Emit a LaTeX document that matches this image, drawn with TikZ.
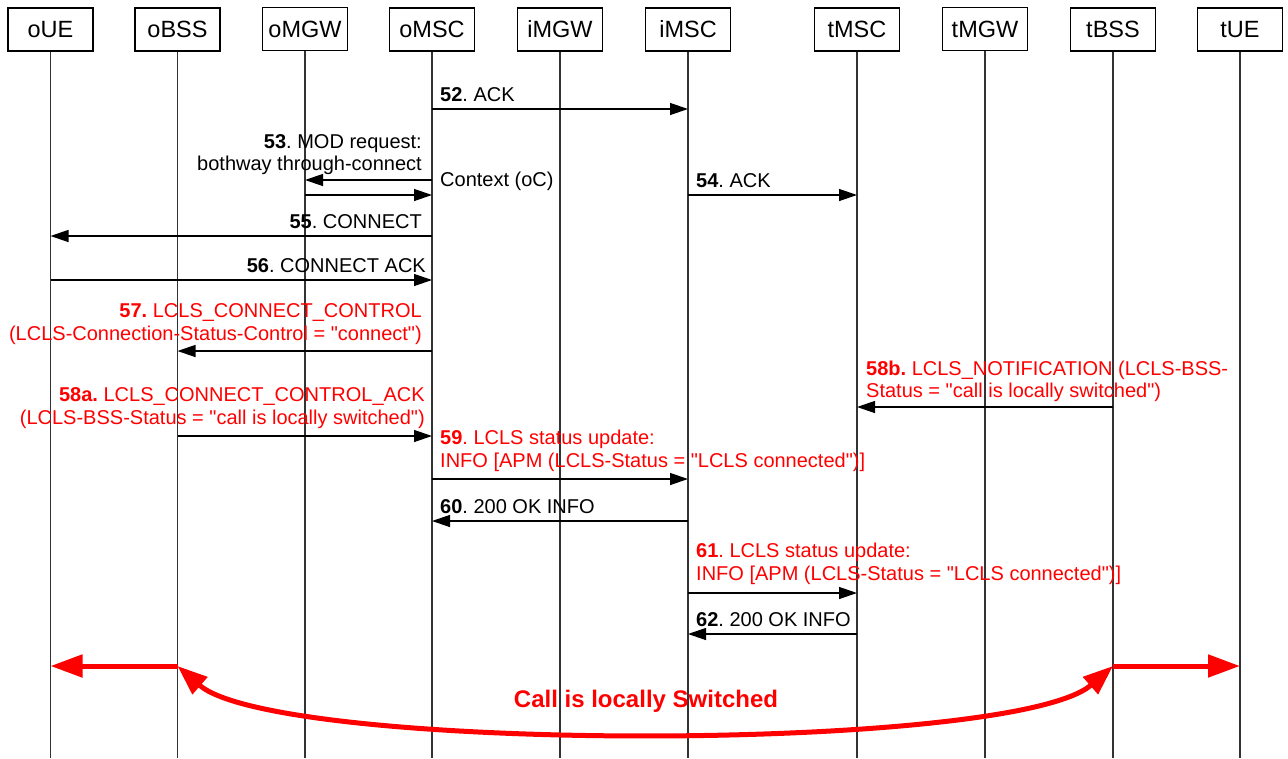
\documentclass[tikz,border=0pt]{standalone}
\usepackage{fontspec}
\setmainfont{Liberation Sans}
\usetikzlibrary{arrows.meta}
\definecolor{lred}{RGB}{255,0,0}
\newcommand{\qt}{\textquotedbl}
\frenchspacing
\begin{document}
\begin{tikzpicture}[x=1pt,y=-1pt,
  ent/.style={draw, line width=1.3pt, minimum width=85pt, minimum height=43pt, inner sep=0pt, font=\fontsize{23.5}{28}\selectfont},
  life/.style={line width=1.3pt, draw=black!80},
  msg/.style={line width=1.3pt, -{Triangle[length=18pt,width=12pt]}},
  lbl/.style={inner sep=0pt, font=\fontsize{20}{24}\selectfont},
  lr/.style={lbl, anchor=base east},
  ll/.style={lbl, anchor=base west},
  redtxt/.style={text=lred},
  bigarrow/.style={line width=5pt, draw=lred, -{Triangle[length=32pt,width=22pt]}},
  bigcurve/.style={line width=5pt, draw=lred, {Triangle[length=30pt,width=22pt]}-{Triangle[length=30pt,width=22pt]}}
]
\useasboundingbox (0,0) rectangle (1288,758);
\coordinate (bottom) at (0,758);
% entities
\node[ent] (oUE)  at (50.5,29.5)  {oUE};
\node[ent] (oBSS) at (177.5,29.5) {oBSS};
\node[ent] (oMGW) at (305,29)   {oMGW};
\node[ent] (oMSC) at (432,29.5) {oMSC};
\node[ent] (iMGW) at (560,29.5) {iMGW};
\node[ent] (iMSC) at (688,29.5) {iMSC};
\node[ent] (tMSC) at (857,29.5) {tMSC};
\node[ent] (tMGW) at (985,29)   {tMGW};
\node[ent] (tBSS) at (1113,29.5) {tBSS};
\node[ent] (tUE)  at (1240,29.5) {tUE};
% lifelines
\foreach \n in {oUE,oBSS,oMGW,oMSC,iMGW,iMSC,tMSC,tMGW,tBSS,tUE}
  \draw[life] (\n.south) -- (\n.south |- bottom);
% 52
\draw[msg] (oMSC |- 0,109) -- (iMSC |- 0,109);
\node[ll] (l52) at (440,101) {\textbf{52}. ACK};
% 53
\node[lr] (l53a) at (422,148) {\textbf{53}. MOD request:};
\node[lr] (l53b) at (422,170) {bothway through-connect};
\draw[msg] (oMSC |- 0,180) -- (oMGW |- 0,180);
\draw[msg] (oMGW |- 0,195) -- (oMSC |- 0,195);
\node[ll] (ctx) at (440,186) {Context (oC)};
% 54
\draw[msg] (iMSC |- 0,195) -- (tMSC |- 0,195);
\node[ll] (l54) at (696,187) {\textbf{54}. ACK};
% 55
\draw[msg] (oMSC |- 0,236) -- (oUE |- 0,236);
\node[lr] (l55) at (422,228) {\textbf{55}. CONNECT};
% 56
\draw[msg] (oUE |- 0,280) -- (oMSC |- 0,280);
\node[lr] (l56) at (426,272) {\textbf{56}. CONNECT ACK};
% 57
\node[lr,redtxt] (l57a) at (422,317) {\textbf{57.} LCLS\_CONNECT\_CONTROL};
\node[lr,redtxt] (l57b) at (422,340) {(LCLS-Connection-Status-Control = \qt connect\qt)};
\draw[msg] (oMSC |- 0,351) -- (oBSS |- 0,351);
% 58b
\node[ll,redtxt] (l58ba) at (866,375) {\textbf{58b.} LCLS\_NOTIFICATION (LCLS-BSS-};
\node[ll,redtxt] (l58bb) at (866,397) {Status = \qt call is locally switched\qt)};
\draw[msg] (tBSS |- 0,407) -- (tMSC |- 0,407);
% 58a
\node[lr,redtxt] (l58aa) at (425,401) {\textbf{58a.} LCLS\_CONNECT\_CONTROL\_ACK};
\node[lr,redtxt] (l58ab) at (425,424) {(LCLS-BSS-Status = \qt call is locally switched\qt)};
\draw[msg] (oBSS |- 0,436) -- (oMSC |- 0,436);
% 59
\node[ll,redtxt] (l59a) at (440,444) {\textbf{59}. LCLS status update:};
\node[ll,redtxt] (l59b) at (440,467) {INFO [APM (LCLS-Status = \qt LCLS connected\qt)]};
\draw[msg] (oMSC |- 0,479) -- (iMSC |- 0,479);
% 60
\node[ll] (l60) at (440,513) {\textbf{60}. 200 OK INFO};
\draw[msg] (iMSC |- 0,521) -- (oMSC |- 0,521);
% 61
\node[ll,redtxt] (l61a) at (696,557) {\textbf{61}. LCLS status update:};
\node[ll,redtxt] (l61b) at (696,580) {INFO [APM (LCLS-Status = \qt LCLS connected\qt)]};
\draw[msg] (iMSC |- 0,593) -- (tMSC |- 0,593);
% 62
\node[ll] (l62) at (696,626) {\textbf{62}. 200 OK INFO};
\draw[msg] (tMSC |- 0,634) -- (iMSC |- 0,634);
% local switching
\draw[bigarrow] (oBSS |- 0,666) -- (oUE |- 0,666);
\draw[bigarrow] (tBSS |- 0,666) -- (tUE |- 0,666);
\draw[bigcurve] (oBSS |- 0,666) .. controls (277,753) and (1013,753) .. (tBSS |- 0,666);
\node[anchor=base, inner sep=0pt, text=lred, font=\bfseries\fontsize{24}{28}\selectfont] (call) at (646,707) {Call is locally Switched};
\end{tikzpicture}
\end{document}
